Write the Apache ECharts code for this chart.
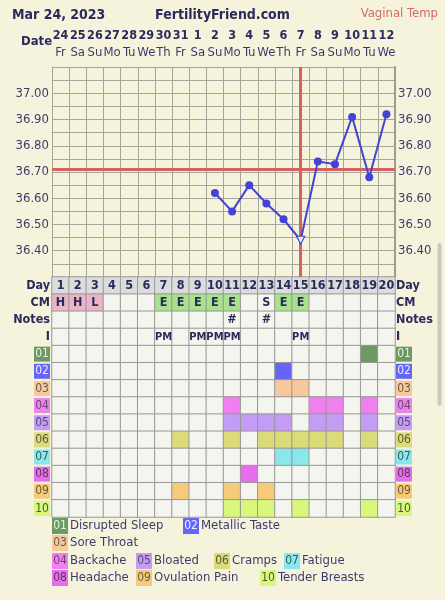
<!DOCTYPE html>
<html>
<head>
<meta charset="utf-8">
<script src="https://cdn.jsdelivr.net/npm/echarts@6/dist/echarts.min.js"></script>
<style>
html,body{margin:0;padding:0;background:#f6f3dc;}
#c{width:445px;height:600px;}
</style>
</head>
<body>
<div id="c"></div>
<script>
// ---------- DATA ----------
const days = ['1','2','3','4','5','6','7','8','9','10','11','12','13','14','15','16','17','18','19','20'];
const dates = ['24','25','26','27','28','29','30','31','1','2','3','4','5','6','7','8','9','10','11','12'];
const weekdays = ['Fr','Sa','Su','Mo','Tu','We','Th','Fr','Sa','Su','Mo','Tu','We','Th','Fr','Sa','Su','Mo','Tu','We'];
const temps = [null,null,null,null,null,null,null,null,null,36.62,36.55,36.65,36.58,36.52,36.44,36.74,36.73,36.91,36.68,36.92];
const coverline = 36.71;
const ovulationDay = '15';
const cm = ['H','H','L','','','','E','E','E','E','E','','S','E','E','','','','',''];
const notes = ['','','','','','','','','','','#','','#','','','','','','',''];
const intercourse = ['','','','','','','PM','','PM','PM','PM','','','','PM','','','','',''];
const symptomCodes = ['01','02','03','04','05','06','07','08','09','10'];
const symptomNames = ['Disrupted Sleep','Metallic Taste','Sore Throat','Backache','Bloated','Cramps','Fatigue','Headache','Ovulation Pain','Tender Breasts'];
const symptomDays = [
  [19],
  [14],
  [14,15],
  [11,16,17,19],
  [11,12,13,14,16,17,19],
  [8,11,13,14,15,16,17,19],
  [14,15],
  [12],
  [8,11,13],
  [11,12,13,15,19]
];
const rowNames = ['Day','CM','Notes','I'].concat(symptomCodes);
const yTickLabels = ['36.40','36.50','36.60','36.70','36.80','36.90','37.00'];

// ---------- STYLE ----------
const FONT = "'DejaVu Sans Condensed', 'DejaVu Sans', sans-serif";
const NAVY = '#2a2a5e';
const TXT = '#3b3b6e';
const GRIDC = '#a6a59c';
const EMPTY = '#f5f5ef';
const symptomColors = ['#6c9a62','#6666f6','#f6c99c','#f080ef','#c49cf5','#dbdb7a','#8ae7eb','#e86cf0','#f5cb7a','#d8f77c'];
const symptomTextColors = ['#e8f0e8','#eeeeff','#6a5a4a','#6a4a6a','#5a4a6a','#5a5a3a','#3a5a5a','#5a3a5a','#6a5a3a','#4a5a3a'];
const cmColors = {H:'#e9b5c7', L:'#e9b5c7', E:'#a9e28f'};

// ---------- BUILD ----------
const heat = [];
for (let x = 0; x < days.length; x++) {
  heat.push({name: days[x], value: [x, 0, 1], itemStyle: {color: '#dcdcdc'}, label: {fontSize: 12.5}});
  heat.push({name: cm[x], value: [x, 1, 1], itemStyle: {color: cmColors[cm[x]] || EMPTY}});
  heat.push({name: notes[x], value: [x, 2, 1], itemStyle: {color: EMPTY}});
  heat.push({name: intercourse[x], value: [x, 3, 1], itemStyle: {color: EMPTY}, label: {fontSize: 11}});
  for (let s = 0; s < symptomCodes.length; s++) {
    const on = symptomDays[s].indexOf(x + 1) >= 0;
    heat.push({name: '', value: [x, 4 + s, 1], itemStyle: {color: on ? symptomColors[s] : EMPTY}});
  }
}

const rich = {
  b: {fontFamily: FONT, fontWeight: 'bold', fontSize: 12.5, color: NAVY}
};
symptomCodes.forEach((c, i) => {
  rich['c' + c] = {fontFamily: FONT, fontSize: 12, color: symptomTextColors[i], backgroundColor: symptomColors[i],
    width: 16, height: 15, align: 'center', lineHeight: 15};
});
function rowLabel(v) {
  if (symptomCodes.indexOf(v) >= 0) return '{c' + v + '|' + v + '}';
  return '{b|' + v + '}';
}
function tempLabel(v) {
  const s = (Math.round(v * 100) / 100).toFixed(2);
  return yTickLabels.indexOf(s) >= 0 ? s : '';
}

const graphic = [
  {type: 'text', left: 12, top: 8, style: {text: 'Mar 24, 2023', font: 'bold 14px ' + FONT, fill: NAVY}},
  {type: 'text', left: 'center', top: 8, style: {text: 'FertilityFriend.com', font: 'bold 14px ' + FONT, fill: NAVY}},
  {type: 'text', right: 7, top: 7, style: {text: 'Vaginal Temp', font: '13px ' + FONT, fill: '#d46a66'}},
  {type: 'text', left: 21, top: 35, style: {text: 'Date', font: 'bold 13px ' + FONT, fill: NAVY}},
  {type: 'rect', shape: {x: 437.5, y: 243, width: 4, height: 163, r: 2}, style: {fill: '#c9c9c4'}}
];
const legendPos = [[52,526],[183,526],[52,543],[52,561],[136,561],[214,561],[284,561],[52,578],[136,578],[260,578]];
symptomCodes.forEach((c, i) => {
  const p = legendPos[i];
  graphic.push({type: 'group', x: p[0], y: p[1], children: [
    {type: 'rect', shape: {x: 0, y: -8, width: 16, height: 16}, style: {fill: symptomColors[i]}},
    {type: 'text', x: 8, y: 0, style: {text: c, font: '12px ' + FONT, fill: symptomTextColors[i], align: 'center', verticalAlign: 'middle'}},
    {type: 'text', x: 18, y: 0, style: {text: symptomNames[i], font: '13px ' + FONT, fill: TXT, verticalAlign: 'middle'}}
  ]});
});

const chart = echarts.init(document.getElementById('c'), null, {renderer: 'canvas'});
chart.setOption({
  backgroundColor: '#f6f3dc',
  animation: false,
  textStyle: {fontFamily: FONT},
  grid: [
    {left: 52, top: 67, width: 343, height: 210, containLabel: false},
    {left: 52, top: 277, width: 343, height: 240, containLabel: false}
  ],
  xAxis: [
    {type: 'category', gridIndex: 0, data: days, boundaryGap: true,
      axisLine: {show: false}, axisTick: {show: false}, axisLabel: {show: false},
      splitLine: {show: true, interval: 0, lineStyle: {color: GRIDC, width: 1}}},
    {type: 'category', gridIndex: 0, position: 'top', data: dates, boundaryGap: true,
      axisLine: {show: false}, axisTick: {show: false}, splitLine: {show: false},
      axisLabel: {interval: 0, margin: 5.5,
        formatter: (v, i) => '{d|' + v + '}\n{w|' + weekdays[i] + '}',
        rich: {
          d: {fontFamily: FONT, fontWeight: 'bold', fontSize: 12.5, color: NAVY, lineHeight: 17.5},
          w: {fontFamily: FONT, fontSize: 13, color: TXT, lineHeight: 17.5}
        }}},
    {type: 'category', gridIndex: 1, data: days, boundaryGap: true,
      axisLine: {show: false}, axisTick: {show: false}, axisLabel: {show: false}, splitLine: {show: false}}
  ],
  yAxis: [
    {type: 'value', gridIndex: 0, min: 36.3, max: 37.1, interval: 0.05,
      axisLine: {show: true, lineStyle: {color: GRIDC}}, axisTick: {show: false},
      splitLine: {show: true, lineStyle: {color: GRIDC, width: 1}},
      axisLabel: {formatter: tempLabel, fontSize: 13, color: TXT, margin: 3, fontFamily: FONT}},
    {type: 'value', gridIndex: 0, position: 'right', min: 36.3, max: 37.1, interval: 0.05,
      axisLine: {show: true, lineStyle: {color: '#9c9c96', width: 2}}, axisTick: {show: false},
      splitLine: {show: false},
      axisLabel: {formatter: tempLabel, fontSize: 13, color: TXT, margin: 3, fontFamily: FONT}},
    {type: 'category', gridIndex: 1, data: rowNames, inverse: true,
      axisLine: {show: false}, axisTick: {show: false}, splitLine: {show: false},
      axisLabel: {interval: 0, margin: 2, formatter: rowLabel, rich: rich}},
    {type: 'category', gridIndex: 1, data: rowNames, inverse: true, position: 'right',
      axisLine: {show: false}, axisTick: {show: false}, splitLine: {show: false},
      axisLabel: {interval: 0, margin: 1, formatter: rowLabel, rich: rich}}
  ],
  series: [
    {type: 'line', xAxisIndex: 0, yAxisIndex: 0, data: temps.map((t, i) => {
        if (days[i] === ovulationDay) {
          return {value: t, symbol: 'triangle', symbolRotate: 180, symbolSize: 8,
            itemStyle: {color: '#f6f3dc', borderColor: '#4343d6', borderWidth: 1.2}};
        }
        return t;
      }),
      symbol: 'circle', symbolSize: 8, connectNulls: false,
      itemStyle: {color: '#4343d6'}, lineStyle: {color: '#4343d6', width: 2},
      z: 5,
      markLine: {silent: true, symbol: ['none','none'], label: {show: false},
        lineStyle: {color: '#d5625e', width: 3, type: 'solid'},
        data: [{yAxis: coverline}, {xAxis: ovulationDay}]}
    },
    {type: 'heatmap', xAxisIndex: 2, yAxisIndex: 2, data: heat,
      itemStyle: {borderColor: '#989894', borderWidth: 1},
      label: {show: true, formatter: '{b}', fontFamily: FONT, fontWeight: 'bold', fontSize: 12.5, color: NAVY},
      emphasis: {disabled: true}}
  ],
  graphic: graphic
});
</script>
</body>
</html>
